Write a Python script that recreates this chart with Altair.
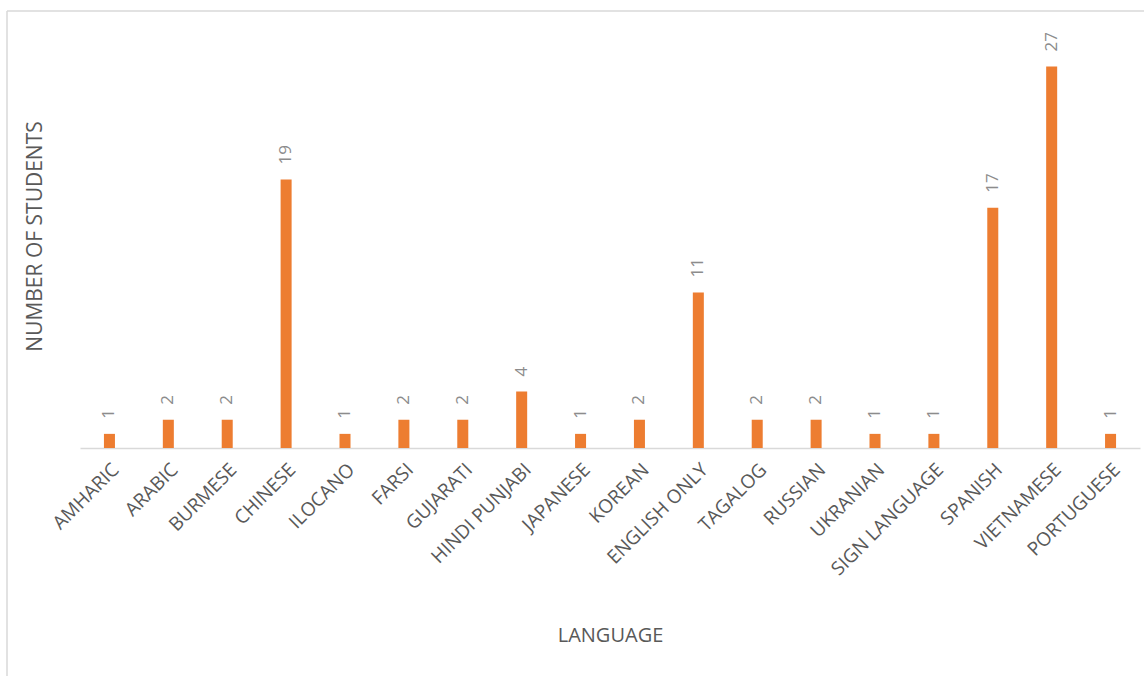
import altair as alt
import pandas as pd

languages = ["AMHARIC", "ARABIC", "BURMESE", "CHINESE", "ILOCANO", "FARSI",
             "GUJARATI", "HINDI PUNJABI", "JAPANESE", "KOREAN", "ENGLISH ONLY",
             "TAGALOG", "RUSSIAN", "UKRANIAN", "SIGN LANGUAGE", "SPANISH",
             "VIETNAMESE", "PORTUGUESE"]
students = [1, 2, 2, 19, 1, 2, 2, 4, 1, 2, 11, 2, 2, 1, 1, 17, 27, 1]

df = pd.DataFrame({"language": languages, "students": students})

W, H = 1060, 424
FONT = "Open Sans"

x = alt.X("language:N", sort=languages,
          scale=alt.Scale(paddingInner=0.813, paddingOuter=0.4065),
          axis=alt.Axis(title="LANGUAGE", labelAngle=-45, labelFont=FONT,
                        labelFontSize=19, labelColor="#595959", labelPadding=12,
                        ticks=False, domainColor="#D9D9D9", domainWidth=1.5,
                        titleFont=FONT, titleFontSize=20, titleFontWeight="normal",
                        titleColor="#595959", titleX=W / 2, titleY=187,
                        titleBaseline="middle", titleAlign="center"))
y = alt.Y("students:Q", scale=alt.Scale(domain=[0, 30], nice=False),
          axis=alt.Axis(title="NUMBER OF STUDENTS", labels=False, ticks=False,
                        domain=False, grid=False, titleFont=FONT, titleFontSize=21,
                        titleFontWeight="normal", titleColor="#595959",
                        titleX=-45, titleY=H / 2, titleBaseline="middle",
                        titleAlign="center", titleAngle=-90))

bars = alt.Chart(df).mark_bar(color="#ED7D31").encode(x=x, y=y)
labels = alt.Chart(df).mark_text(angle=270, align="left", baseline="middle",
                                 dx=15, font=FONT, fontSize=17,
                                 color="#8C8C8C").encode(
    x=alt.X("language:N", sort=languages), y="students:Q", text="students:Q")

frame_data = alt.Data(values=[{"k": 0}])
left_line = alt.Chart(frame_data).mark_rule(color="#D9D9D9", strokeWidth=1.5).encode(
    x=alt.value(-73), y=alt.value(-13), y2=alt.value(700))
top_line = alt.Chart(frame_data).mark_rule(color="#D9D9D9", strokeWidth=1.5).encode(
    x=alt.value(-73), x2=alt.value(1100), y=alt.value(-13))

chart = alt.layer(bars, labels, left_line, top_line).properties(
    width=W, height=H,
    autosize=alt.AutoSizeParams(type="none"),
    padding={"left": 80, "top": 24, "right": 4, "bottom": 228},
).configure(background="white").configure_view(stroke="transparent", strokeWidth=0)

chart.save("out.html", embed_options={"renderer": "svg", "actions": False})
